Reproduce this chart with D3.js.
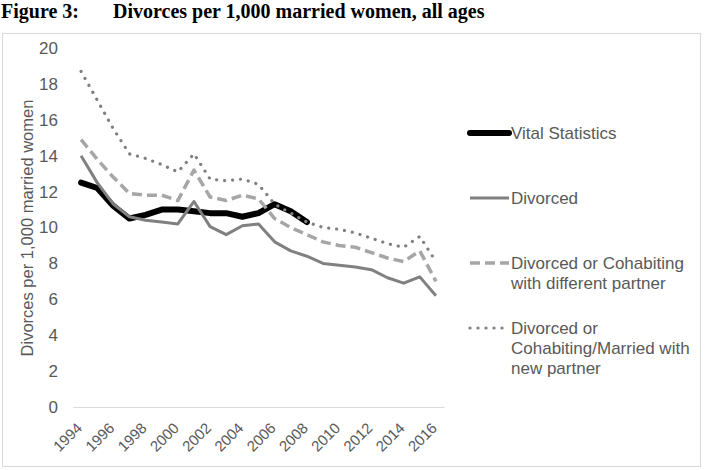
<!DOCTYPE html>
<html><head><meta charset="utf-8">
<script src="https://cdn.jsdelivr.net/npm/d3@7"></script>
<style>body{margin:0;background:#fff;}svg{display:block;}</style>
</head><body>
<svg id="c" width="706" height="470"></svg>
<script>
const years = d3.range(1994, 2017);
const yTicks = [0,2,4,6,8,10,12,14,16,18,20];
const xTickLabels = [1994,1996,1998,2000,2002,2004,2006,2008,2010,2012,2014,2016];
const vitalStatistics = [12.5,12.2,11.2,10.5,10.7,11.0,11.0,10.9,10.8,10.8,10.6,10.8,11.3,10.9,10.3];
const divorced = [14.0,12.5,11.3,10.6,10.4,10.3,10.2,11.45,10.05,9.6,10.1,10.2,9.2,8.7,8.4,8.0,7.9,7.8,7.65,7.2,6.9,7.25,6.2];
const divorcedOrCohabiting = [14.9,13.8,12.8,11.9,11.8,11.8,11.5,13.2,11.7,11.5,11.8,11.6,10.5,10.0,9.6,9.2,9.0,8.9,8.6,8.3,8.1,8.7,7.0];
const divorcedOrCohabitingMarried = [18.7,17.1,15.5,14.1,13.85,13.5,13.1,14.1,12.7,12.6,12.7,12.4,11.3,10.8,10.3,10.0,9.9,9.7,9.4,9.1,8.9,9.5,8.1];
const seriesNames = [["Vital Statistics"],["Divorced"],["Divorced or Cohabiting","with different partner"],["Divorced or","Cohabiting/Married with","new partner"]];

const svg = d3.select("#c");
const textColor = "#595959";
const font = "'Liberation Sans', Arial, sans-serif";
const serif = "'Liberation Serif','Times New Roman',serif";

// Title
svg.append("text").attr("x",1).attr("y",18).attr("font-family",serif)
  .attr("font-weight","bold").attr("font-size",20).attr("fill","#000").text("Figure 3:");
svg.append("text").attr("x",113).attr("y",18).attr("font-family",serif)
  .attr("font-weight","bold").attr("font-size",20).attr("fill","#000").text("Divorces per 1,000 married women, all ages");

// Chart border
svg.append("rect").attr("x",2.5).attr("y",33.5).attr("width",698).attr("height",433)
  .attr("fill","none").attr("stroke","#d9d9d9").attr("stroke-width",1);

const plotLeft = 73, plotRight = 444, plotTop = 48, plotBottom = 407;
const x = d3.scaleBand().domain(years).range([plotLeft, plotRight]);
const xc = d => x(d) + x.bandwidth()/2;
const y = d3.scaleLinear().domain([0,20]).range([plotBottom, plotTop]);

// Y axis
const yAxis = svg.append("g").attr("transform",`translate(${plotLeft},0)`)
  .call(d3.axisLeft(y).tickValues(yTicks).tickSize(0).tickPadding(15));
yAxis.select(".domain").remove();
yAxis.selectAll("text").attr("font-family",font).attr("font-size",17).attr("fill",textColor);

// X axis
const xAxis = svg.append("g").attr("transform",`translate(0,${plotBottom})`)
  .call(d3.axisBottom(x).tickValues(xTickLabels).tickSize(0).tickPadding(0));
xAxis.select(".domain").attr("stroke","#d9d9d9").attr("stroke-width",1.2);
xAxis.selectAll("text").attr("font-family",font).attr("font-size",15).attr("fill",textColor)
  .attr("text-anchor","end").attr("dy",0)
  .attr("transform","translate(2,22) rotate(-45)");

// Y label
svg.append("text").attr("transform","translate(33,228) rotate(-90)")
  .attr("text-anchor","middle").attr("font-family",font).attr("font-size",16.5)
  .attr("fill",textColor).text("Divorces per 1,000 married women");

const line = d3.line().x((d,i)=>xc(years[i])).y(d=>y(d));

const styles = [
  {data: vitalStatistics, stroke:"#000", width:6, dash:null, cap:"round"},
  {data: divorced, stroke:"#808080", width:3, dash:null, cap:"butt"},
  {data: divorcedOrCohabiting, stroke:"#a6a6a6", width:3.5, dash:"10,5", cap:"butt"},
  {data: divorcedOrCohabitingMarried, stroke:"#808080", width:3.2, dash:"0.1,7.9", cap:"round"}
];
styles.forEach(s=>{
  svg.append("path").datum(s.data).attr("d",line).attr("fill","none")
    .attr("stroke",s.stroke).attr("stroke-width",s.width).attr("stroke-linejoin","round")
    .attr("stroke-linecap",s.cap).attr("stroke-dasharray",s.dash);
});

// Legend
const legendBase = [139,204,269,334];
styles.forEach((s,i)=>{
  const ly = legendBase[i]-6;
  svg.append("line").attr("x1",470).attr("x2",509).attr("y1",ly).attr("y2",ly)
    .attr("stroke",s.stroke).attr("stroke-width",s.width).attr("stroke-linecap",s.cap)
    .attr("stroke-dasharray",s.dash);
  const t = svg.append("text").attr("x",511).attr("y",legendBase[i]).attr("font-family",font)
    .attr("font-size",17).attr("fill",textColor);
  seriesNames[i].forEach((l,j)=>{
    t.append("tspan").attr("x",511).attr("dy", j===0?0:20).text(l);
  });
});
</script>
</body></html>
